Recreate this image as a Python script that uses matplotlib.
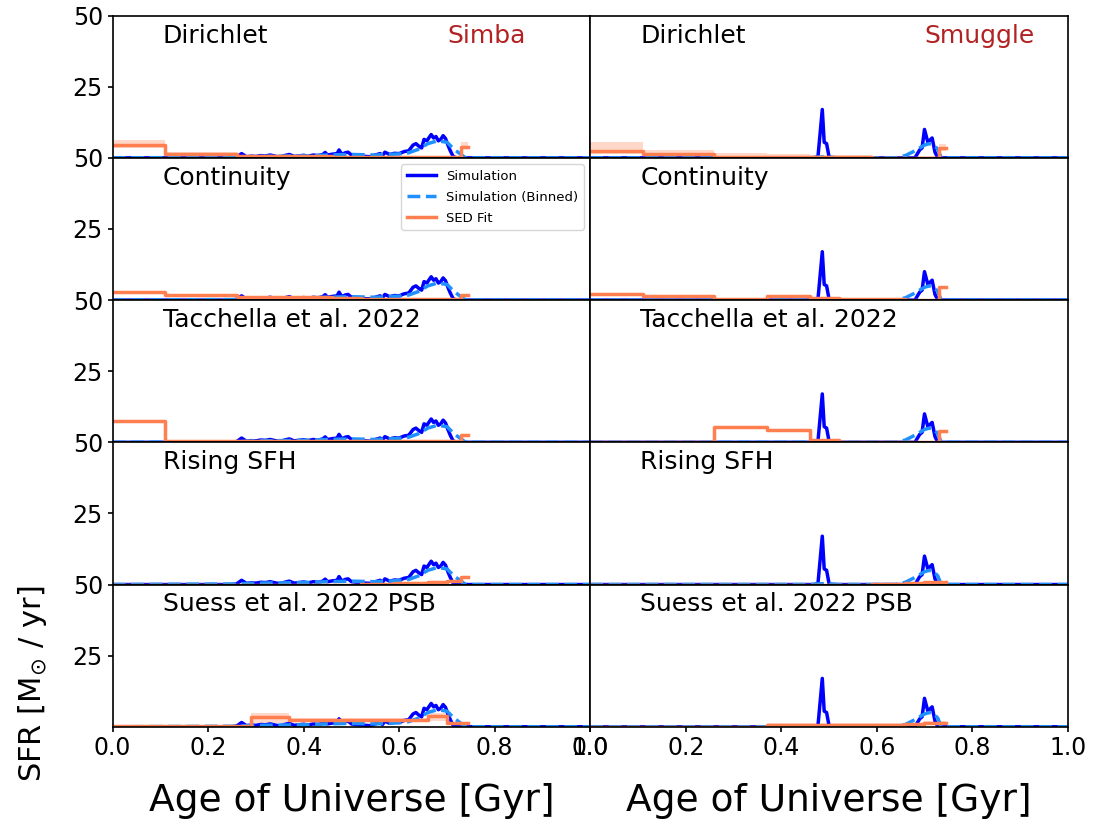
import numpy as np
import matplotlib
matplotlib.use("Agg")
import matplotlib.pyplot as plt

# prior names (rows) and galaxies (columns)
priors = ["Dirichlet", "Continuity", "Tacchella et al. 2022", "Rising SFH", "Suess et al. 2022 PSB"]
sims = ["Simba", "Smuggle"]

# simulated SFH, Simba
simba_t = [0, 0.25, 0.26, 0.27, 0.28, 0.29, 0.30, 0.31, 0.32, 0.33, 0.34, 0.35, 0.36, 0.37, 0.38,
           0.39, 0.40, 0.41, 0.42, 0.43, 0.44, 0.445, 0.45, 0.46, 0.47, 0.474, 0.48, 0.487, 0.493,
           0.50, 0.51, 0.52, 0.53, 0.54, 0.55, 0.56, 0.565, 0.57, 0.58, 0.585, 0.59, 0.60, 0.61,
           0.62, 0.629, 0.635, 0.642, 0.647, 0.652, 0.658, 0.662, 0.667, 0.672, 0.677, 0.682,
           0.687, 0.692, 0.697, 0.702, 0.707, 0.713, 0.72, 1.0]
simba_sfr = [0, 0, 0.3, 1.5, 0.4, 0.6, 0.5, 0.8, 0.7, 1.0, 0.6, 0.3, 0.8, 1.2, 0.5,
             0.7, 0.9, 0.6, 1.0, 0.8, 1.2, 1.9, 1.0, 1.3, 1.5, 2.8, 1.2, 1.8,
             2.0, 1.0, 0.8, 0.6, 0.5, 0.4, 1.0, 1.5, 0.8, 2.0, 1.2, 1.4, 1.6, 1.5,
             2.2, 2.5, 4.5, 5.0, 4.0, 3.5, 6.5, 6.0, 7.0, 8.2, 7.0, 7.5, 6.0,
             6.5, 7.8, 6.8, 4.5, 2.5, 0.5, 0, 0]
simba_bin_t = [0, 0.26, 0.30, 0.35, 0.40, 0.45, 0.50, 0.55, 0.60, 0.62, 0.64, 0.66, 0.68, 0.70, 0.715, 0.735, 0.74, 1.0]
simba_bin_sfr = [0, 0.2, 0.5, 0.6, 0.7, 1.0, 1.2, 1.0, 1.4, 1.8, 3.0, 5.0, 6.0, 5.5, 3.0, 0.5, 0, 0]

# simulated SFH, Smuggle
smuggle_t = [0, 0.47, 0.477, 0.486, 0.49, 0.495, 0.50, 0.505, 0.68, 0.69, 0.695, 0.70, 0.707, 0.716, 0.722, 0.728, 1.0]
smuggle_sfr = [0, 0, 0.5, 17, 5.5, 5.0, 0.5, 0, 0, 2.8, 3.5, 10, 5.5, 7, 2, 0, 0]
smuggle_bin_t = [0, 0.46, 0.48, 0.50, 0.52, 0.64, 0.66, 0.68, 0.69, 0.70, 0.71, 0.72, 0.728, 0.735, 1.0]
smuggle_bin_sfr = [0, 0, 0.3, 0.3, 0, 0, 0.8, 2.5, 3.5, 4.5, 5.0, 4.5, 3.0, 0, 0]

# SED fit age bins [Gyr]
bin_edges = [0, 0.11, 0.26, 0.29, 0.37, 0.46, 0.52, 0.59, 0.66, 0.70, 0.73, 0.745]

simba_fit = [[4.6, 1.2, 0.5, 0.5, 0.5, 0.4, 0.4, 0.3, 0.2, 0.2, 4.0],
             [3.0, 1.8, 1.2, 1.2, 1.2, 0.8, 0.4, 0.4, 0.4, 0.4, 1.7],
             [7.5, 0.3, 0.3, 0.3, 0.3, 0.3, 0.3, 0.3, 0.3, 0.3, 2.5],
             [0, 0, 0, 0, 0, 0, 0.1, 0.5, 1.0, 1.2, 2.5],
             [0.4, 0.4, 0.3, 3.3, 2.5, 2.5, 2.5, 2.5, 3.9, 1.2, 1.2]]
simba_lo = [[3.5, 0.7, 0.1, 0.1, 0.1, 0.1, 0.1, 0.05, 0.05, 0.05, 3.0],
            [2.7, 1.5, 1.0, 1.0, 1.0, 0.6, 0.3, 0.3, 0.3, 0.3, 1.4],
            [7.2, 0.2, 0.2, 0.2, 0.2, 0.2, 0.2, 0.2, 0.2, 0.2, 2.2],
            [0, 0, 0, 0, 0, 0, 0.05, 0.4, 0.9, 1.0, 2.2],
            [0.2, 0.2, 0.1, 1.5, 2.0, 2.0, 2.0, 2.0, 2.0, 0.8, 0.8]]
simba_hi = [[6.2, 2.2, 1.0, 1.0, 1.0, 0.8, 0.8, 0.6, 0.5, 0.5, 5.5],
            [3.3, 2.1, 1.4, 1.4, 1.4, 1.0, 0.5, 0.5, 0.5, 0.5, 2.0],
            [7.8, 0.4, 0.4, 0.4, 0.4, 0.4, 0.4, 0.4, 0.4, 0.4, 2.8],
            [0, 0, 0, 0, 0, 0, 0.15, 0.6, 1.1, 1.4, 2.8],
            [0.6, 0.6, 0.5, 5.0, 3.0, 3.0, 3.0, 3.0, 5.0, 1.5, 1.5]]

smuggle_fit = [[2.5, 1.2, 0.3, 0.3, 0.4, 0.3, 0.3, 0.1, 0.1, 0.1, 3.5],
               [2.2, 1.6, 0.4, 0.4, 1.3, 0.8, 0.3, 0.3, 0.2, 0.2, 4.5],
               [0, 0, 5.3, 5.3, 4.3, 0.8, 0.2, 0.2, 0.2, 0.2, 4.0],
               [0, 0, 0, 0, 0, 0, 0, 0.2, 0.6, 0.9, 0.9],
               [0, 0, 0, 0, 0.5, 0.5, 0.5, 0.5, 0.8, 1.2, 1.2]]
smuggle_lo = [[1.5, 0.5, 0, 0, 0, 0, 0, 0, 0, 0, 2.5],
              [2.0, 1.4, 0.3, 0.3, 1.1, 0.6, 0.2, 0.2, 0.1, 0.1, 4.2],
              [0, 0, 4.8, 4.8, 3.9, 0.6, 0.1, 0.1, 0.1, 0.1, 3.6],
              [0, 0, 0, 0, 0, 0, 0, 0.1, 0.5, 0.8, 0.8],
              [0, 0, 0, 0, 0, 0, 0, 0, 0.5, 0.8, 0.8]]
smuggle_hi = [[5.5, 2.8, 1.8, 1.8, 1.4, 1.0, 1.0, 0.5, 0.5, 0.5, 5.0],
              [2.4, 1.8, 0.5, 0.5, 1.5, 1.0, 0.4, 0.4, 0.3, 0.3, 4.8],
              [0, 0, 5.8, 5.8, 4.7, 1.0, 0.3, 0.3, 0.3, 0.3, 4.4],
              [0, 0, 0, 0, 0, 0, 0, 0.3, 0.7, 1.0, 1.0],
              [0, 0, 0, 0, 1.2, 1.2, 1.2, 1.2, 1.5, 2.0, 2.0]]

sim_t = [simba_t, smuggle_t]
sim_sfr = [simba_sfr, smuggle_sfr]
bin_t = [simba_bin_t, smuggle_bin_t]
bin_sfr = [simba_bin_sfr, smuggle_bin_sfr]
fits = [simba_fit, smuggle_fit]
fits_lo = [simba_lo, smuggle_lo]
fits_hi = [simba_hi, smuggle_hi]

fig, axes = plt.subplots(5, 2, figsize=(10.94, 8.24), dpi=100, sharex=True, sharey=True)
fig.subplots_adjust(left=0.103, right=0.976, top=0.981, bottom=0.118, hspace=0, wspace=0)

for col in range(2):
    for row in range(5):
        ax = axes[row, col]
        ax.plot(sim_t[col], sim_sfr[col], color="blue", lw=2.5, label="Simulation")
        ax.plot(bin_t[col], bin_sfr[col], color="dodgerblue", lw=2.5, ls="--", label="Simulation (Binned)")
        vals = fits[col][row]
        ax.fill_between(bin_edges, list(fits_lo[col][row]) + [fits_lo[col][row][-1]],
                        list(fits_hi[col][row]) + [fits_hi[col][row][-1]],
                        step="post", color="coral", alpha=0.3, lw=0)
        ax.step(bin_edges, list(vals) + [vals[-1]], where="post", color="coral", lw=2.5, label="SED Fit")
        ax.text(0.105, 0.86, priors[row], transform=ax.transAxes, fontsize=18, va="center")
        if row == 0:
            ax.text(0.70, 0.86, sims[col], transform=ax.transAxes, fontsize=18, va="center",
                    color="firebrick")
        ax.set_xlim(0, 1)
        ax.set_ylim(0, 50)
        ax.set_yticks([25, 50])
        ax.tick_params(labelsize=17, width=1.2)
        if row < 4:
            ax.tick_params(bottom=False)
        if col == 1:
            ax.tick_params(left=False)
        else:
            ax.tick_params(labelleft=True)
        for s in ax.spines.values():
            s.set_linewidth(1.2)

axes[1, 0].legend(loc="upper right", fontsize=9.5, handlelength=2.2, labelspacing=0.6)
for ax in axes[4]:
    ax.set_xticks([0, 0.2, 0.4, 0.6, 0.8, 1.0])
    ax.set_xlabel("Age of Universe [Gyr]", fontsize=27, labelpad=16)
fig.text(0.03, 0.17, r"SFR [M$_{\odot}$ / yr]", rotation=90, fontsize=22, va="center", ha="center")

plt.savefig("out.png")
